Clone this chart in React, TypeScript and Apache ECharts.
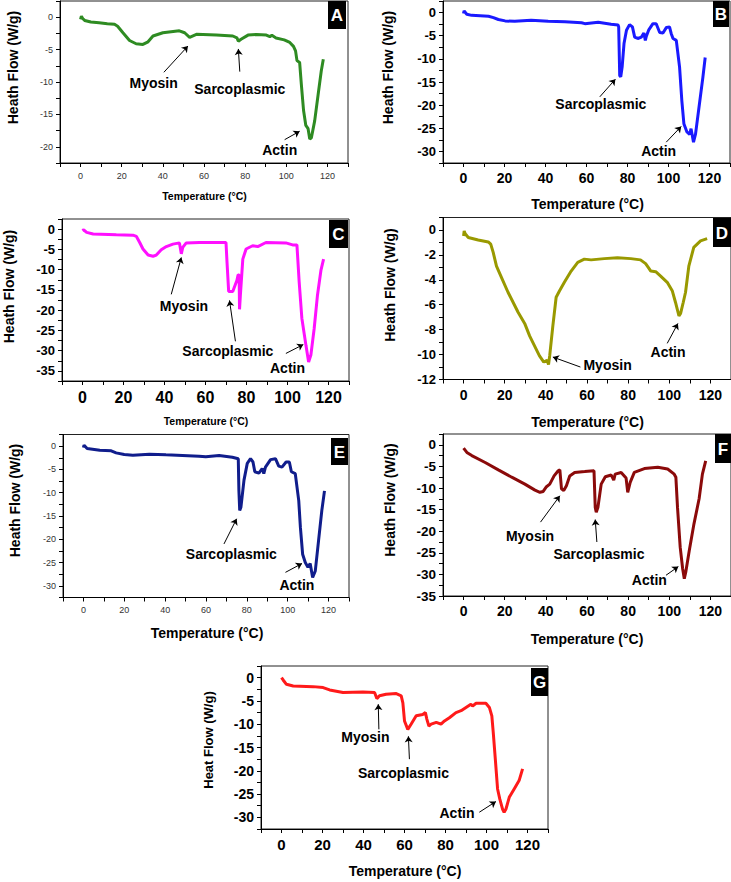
import React, { useEffect, useRef } from 'react';
import * as echarts from 'echarts';

// ---- Data (Temperature °C, Heat flow W/g) ----
const curveA: [number, number][] = [[0,-0.35],[0.4,0.15],[1,-0.2],[2,-0.5],[5,-0.75],[9,-0.87],[13,-1.0],[16.5,-1.1],[18,-1.4],[20.6,-2.4],[23.8,-3.6],[27,-4.1],[30.3,-4.2],[32.8,-3.8],[35.2,-2.9],[40,-2.4],[44,-2.25],[48,-2.1],[50.6,-2.4],[53,-3.1],[56.3,-2.65],[66,-2.76],[74,-2.9],[76,-3.2],[76.7,-3.7],[78,-3.4],[81.4,-2.76],[85.5,-2.66],[90.3,-2.76],[92,-3.0],[93,-2.8],[95,-3.2],[99,-3.5],[101.7,-3.9],[103.5,-4.5],[104.5,-5.2],[105.2,-6.7],[106.5,-7],[107.3,-10.3],[108.4,-14.4],[109.5,-16.7],[110.6,-17.2],[111.4,-18.8],[112.2,-18.6],[113.8,-16],[115.5,-11.9],[117,-8.3],[118,-6.5]];
const curveB: [number, number][] = [[0,-0.2],[0.3,0.35],[1.6,-0.36],[4,-0.6],[12.2,-0.8],[14.6,-1.1],[17,-1.5],[20.3,-1.8],[25,-1.9],[33,-1.65],[41.3,-1.9],[49.5,-2.0],[57.6,-2.2],[59.2,-2.4],[65.7,-2.1],[72,-2.5],[75.4,-2.7],[75.7,-3.1],[76.2,-13.6],[76.7,-13.9],[77.4,-11.7],[78.3,-6.7],[79.5,-3.8],[81,-2.6],[82.4,-3.1],[83.5,-5.3],[85,-5.6],[86.8,-5.3],[88,-4.4],[88.7,-6.0],[89.2,-5.1],[90.3,-3.8],[92.4,-2.4],[94,-2.4],[95.7,-4.3],[97.3,-4.4],[99,-3.2],[100.5,-3.1],[101.3,-4.5],[102.2,-5.6],[103.8,-6.0],[105.4,-11.8],[106.5,-19],[107.5,-24],[109,-25.8],[110.3,-26.3],[111,-25.1],[112.2,-28],[113.2,-26.2],[115.1,-19.7],[116.8,-13.9],[117.9,-9.7]];
const curveC: [number, number][] = [[0,-0.4],[0.6,-0.16],[2,-0.8],[5.2,-1.2],[16.5,-1.4],[24.6,-1.5],[26.3,-1.8],[27.9,-3.3],[29.5,-4.9],[32,-6.4],[34.4,-6.7],[36,-6.4],[38.4,-5.1],[40.9,-4.3],[44.1,-3.7],[47.3,-3.4],[48.2,-6.1],[48.9,-4.5],[50.6,-3.4],[57,-3.3],[70,-3.3],[70.5,-8.2],[71.3,-15.4],[73.3,-15.4],[75.3,-12.7],[75.9,-11.3],[76.4,-11.3],[76.6,-19.8],[77.0,-16.4],[78.2,-7.4],[79.8,-4.9],[83,-4.1],[85.5,-4.3],[89.5,-3.3],[99.2,-3.4],[102.5,-3.9],[104.6,-3.9],[105.7,-13.1],[107,-22],[109,-28.7],[110.3,-32.8],[111.4,-31.1],[113,-24.6],[114.6,-16.4],[116.3,-10.2],[117.6,-7.4]];
const curveD: [number, number][] = [[0,-0.48],[0.3,-0.08],[0.8,-0.3],[2.3,-0.6],[7.1,-0.8],[12,-0.96],[13.2,-1.14],[14.4,-1.8],[16,-2.9],[18.4,-3.8],[21.6,-5.0],[26.5,-6.6],[29.7,-7.5],[32.1,-8.5],[34.5,-9.3],[36.9,-10.1],[39,-10.6],[40.6,-10.45],[41.3,-10.8],[41.9,-10.05],[43.4,-7.7],[45,-5.4],[46.6,-4.9],[49,-4.2],[52.3,-3.3],[55.5,-2.6],[58.7,-2.34],[62,-2.4],[68.4,-2.3],[74.8,-2.23],[81.3,-2.3],[86,-2.4],[88.5,-2.7],[90.2,-3.1],[91,-3.3],[93.4,-3.35],[95.8,-3.7],[99,-4.2],[101.5,-4.9],[103,-5.8],[104.7,-6.9],[105.5,-6.7],[106.8,-5.8],[107.9,-5.0],[109.5,-2.9],[111.9,-1.4],[115.2,-0.88],[118.4,-0.7]];
const curveE: [number, number][] = [[0,-0.3],[0.3,0.2],[1.8,-0.5],[8,-0.86],[13.6,-1.0],[16,-1.44],[20,-1.8],[24.2,-1.94],[32.3,-1.73],[40.4,-1.87],[48.5,-2.0],[56.6,-2.15],[59.9,-2.3],[66.4,-2.0],[72.9,-2.4],[75.8,-2.7],[76.1,-9.5],[76.5,-13.8],[77.1,-13.1],[78.6,-7.3],[80.2,-3.7],[81.8,-2.7],[83,-3.4],[83.9,-5.5],[85.9,-5.8],[87.5,-4.8],[88.3,-5.9],[89.1,-4.5],[91.6,-2.9],[94,-2.7],[95.6,-4.3],[97.2,-4.5],[99.2,-3.4],[100.8,-3.4],[101.8,-5.5],[103.7,-5.9],[105.4,-11.7],[106.2,-17.4],[107.3,-23.2],[108.6,-25],[109.9,-26],[111,-25.2],[112.2,-28.2],[113.5,-26.8],[115.1,-20.3],[116.7,-13.8],[118,-9.6]];
const curveF: [number, number][] = [[0,-0.77],[1.6,-1.77],[4,-2.5],[10.5,-4.1],[16.9,-5.8],[23.4,-7.5],[29.8,-9.1],[34.7,-10.5],[37.1,-11],[38.7,-10.8],[40.3,-9.7],[41.9,-9.1],[44,-7.2],[46,-6],[46.8,-5.8],[47.6,-10.2],[48.7,-10.6],[50,-9.5],[51.6,-7.2],[54,-6.4],[58.9,-6.2],[63.4,-6],[64,-14.5],[64.5,-15.6],[65.3,-14.5],[66.9,-9.1],[68.9,-7.4],[71.8,-7],[73,-8.2],[73.7,-6.8],[76.6,-6.4],[79,-7.7],[79.8,-11],[81,-8.7],[83,-6.4],[87.9,-5.5],[94.4,-5.2],[99.2,-5.6],[102.4,-6.8],[103.2,-7.5],[104,-14.5],[105.3,-23.7],[106.5,-28.7],[107.3,-31],[108,-29.5],[109.7,-24.5],[112,-18.3],[114.5,-12.5],[116.1,-6.8],[117.7,-3.7]];
const curveG: [number, number][] = [[0,0],[0.8,-0.5],[2.4,-1.43],[5.7,-1.8],[15.4,-1.93],[20.3,-2.14],[23.5,-2.64],[30,-3.2],[39.7,-3.07],[45.4,-3.2],[46.5,-4.5],[47.8,-3.9],[51,-3.57],[56,-3.43],[58.4,-3.9],[59.2,-5.4],[60,-9.3],[61.6,-11.1],[63.2,-10],[65.7,-8.2],[68.9,-7.9],[70.2,-7.5],[70.9,-8.9],[71.9,-10.4],[73,-10],[75.5,-9.6],[77.8,-10],[79.5,-9.3],[81.9,-8.6],[85.1,-7.5],[87.6,-7.1],[90,-6.4],[92.4,-5.7],[93.2,-6.1],[94.9,-5.5],[99.7,-5.5],[101.4,-6.4],[102.6,-8.2],[103.3,-11.8],[104.3,-17.5],[105.4,-23.9],[106.5,-26.1],[107.8,-28.2],[108.6,-28.9],[109.5,-28.2],[111.1,-25.7],[113.5,-23.9],[115.9,-22.1],[117.6,-19.6]];

// Annotation labels: [x, y, text] in data space
const labelsA: [number, number, string][] = [[35.5,-10.1,'Myosin'],[77.4,-11.1,'Sarcoplasmic'],[96.8,-20.55,'Actin']];
const labelsB: [number, number, string][] = [[67,-19.8,'Sarcoplasmic'],[95.2,-29.9,'Actin']];
const labelsC: [number, number, string][] = [[49.5,-19,'Myosin'],[70.9,-30.2,'Sarcoplasmic'],[100,-34.3,'Actin']];
const labelsD: [number, number, string][] = [[70,-10.8,'Myosin'],[99.4,-9.8,'Actin']];
const labelsE: [number, number, string][] = [[72.4,-23.2,'Sarcoplasmic'],[104.5,-29.8,'Actin']];
const labelsF: [number, number, string][] = [[32.3,-21.2,'Myosin'],[65.8,-25.2,'Sarcoplasmic'],[90.3,-31.2,'Actin']];
const labelsG: [number, number, string][] = [[40.9,-12.7,'Myosin'],[59.5,-20.4,'Sarcoplasmic'],[85.6,-29.1,'Actin']];

// Arrows: [x1, y1, x2 (head), y2 (head)]
const arrowsA: number[][] = [[40.5,-8.5,52.2,-4.45],[77.4,-8.4,76.7,-4.9],[99.2,-18.9,106.5,-17.6]];
const arrowsB: number[][] = [[66.5,-18.2,74.1,-14.4],[98.9,-28,106.2,-24.6]];
const arrowsC: number[][] = [[43.3,-16.1,48.2,-7],[74.6,-27.7,71.7,-17.6],[99.2,-30.7,107.7,-28.5]];
const arrowsD: number[][] = [[56.8,-11,43.4,-10.2],[99,-9.1,104.2,-7.5]];
const arrowsE: number[][] = [[68.8,-21,75,-15.6],[98.9,-27.1,107,-25.2]];
const arrowsF: number[][] = [[37.4,-17.9,46.8,-11.8],[64.8,-22.5,64,-17.3],[98.4,-30.2,104.4,-28.2]];
const arrowsG: number[][] = [[47.5,-11.1,47.2,-5.7],[62.4,-17.5,61.9,-12.6],[96.5,-28.9,104.6,-26.6]];

const FONT = '"Liberation Sans", Arial, Helvetica, sans-serif';

interface Panel {
  tag: string; data: [number, number][]; labels: [number, number, string][]; arrows: number[][];
  color: string; grid: { left: number; top: number; width: number; height: number };
  yMin: number; yMax: number; yStep: number; yLabelStep: number;
  yFont: number; yBold: boolean; xFont: number; xBold: boolean;
  box: [number, number, number, number];
  yTitle: string; yTitlePos: [number, number]; yTitleSize: number;
  xTitlePos: [number, number]; xTitleSize: number;
}

const panels: Panel[] = [
  { tag: 'A', data: curveA, labels: labelsA, arrows: arrowsA, color: '#2e8b22',
    grid: { left: 60, top: 1, width: 288, height: 162 }, yMin: -22.5, yMax: 2.5, yStep: 2.5, yLabelStep: 5,
    yFont: 9, yBold: false, xFont: 9, xBold: false, box: [328, 1, 18, 28],
    yTitle: 'Heath Flow (W/g)', yTitlePos: [13, 67.5], yTitleSize: 14, xTitlePos: [204.5, 196], xTitleSize: 10.5 },
  { tag: 'B', data: curveB, labels: labelsB, arrows: arrowsB, color: '#1a1aff',
    grid: { left: 443, top: 1, width: 287, height: 162 }, yMin: -32.5, yMax: 2.5, yStep: 2.5, yLabelStep: 5,
    yFont: 13, yBold: true, xFont: 14, xBold: true, box: [713, 1, 16, 26],
    yTitle: 'Heath Flow (W/g)', yTitlePos: [388, 67.5], yTitleSize: 14, xTitlePos: [587.5, 204], xTitleSize: 14 },
  { tag: 'C', data: curveC, labels: labelsC, arrows: arrowsC, color: '#ff10ff',
    grid: { left: 62, top: 219, width: 287, height: 162 }, yMin: -37.5, yMax: 2.5, yStep: 2.5, yLabelStep: 5,
    yFont: 13, yBold: true, xFont: 16, xBold: true, box: [329, 220, 19, 28],
    yTitle: 'Heath Flow (W/g)', yTitlePos: [8.5, 286.5], yTitleSize: 14, xTitlePos: [206, 421], xTitleSize: 10.5 },
  { tag: 'D', data: curveD, labels: labelsD, arrows: arrowsD, color: '#999900',
    grid: { left: 443, top: 217.5, width: 288, height: 162 }, yMin: -12, yMax: 1, yStep: 1, yLabelStep: 2,
    yFont: 13, yBold: true, xFont: 14, xBold: true, box: [713, 218, 18, 29],
    yTitle: 'Heath Flow (W/g)', yTitlePos: [390, 285], yTitleSize: 14, xTitlePos: [587.5, 422], xTitleSize: 14 },
  { tag: 'E', data: curveE, labels: labelsE, arrows: arrowsE, color: '#101d8c',
    grid: { left: 63, top: 434.5, width: 286, height: 163 }, yMin: -32.5, yMax: 2.5, yStep: 2.5, yLabelStep: 5,
    yFont: 9, yBold: false, xFont: 9, xBold: false, box: [331, 438, 17, 27],
    yTitle: 'Heath Flow (W/g)', yTitlePos: [15, 500.5], yTitleSize: 14, xTitlePos: [207, 632.7], xTitleSize: 14 },
  { tag: 'F', data: curveF, labels: labelsF, arrows: arrowsF, color: '#8b0a0a',
    grid: { left: 443, top: 434, width: 288, height: 162 }, yMin: -35, yMax: 2.5, yStep: 2.5, yLabelStep: 5,
    yFont: 13.5, yBold: true, xFont: 14, xBold: true, box: [715, 434, 16, 29],
    yTitle: 'Heath Flow (W/g)', yTitlePos: [390, 500], yTitleSize: 14, xTitlePos: [587, 639], xTitleSize: 14 },
  { tag: 'G', data: curveG, labels: labelsG, arrows: arrowsG, color: '#ff1a1a',
    grid: { left: 261, top: 666, width: 287, height: 163 }, yMin: -32.5, yMax: 2.5, yStep: 2.5, yLabelStep: 5,
    yFont: 14, yBold: true, xFont: 15, xBold: true, box: [531, 668, 17, 28],
    yTitle: 'Heat Flow (W/g)', yTitlePos: [208, 740], yTitleSize: 13, xTitlePos: [405, 870.7], xTitleSize: 14 },
];

const every = (step: number) => (v: number) => {
  const r = v / step;
  return Math.abs(r - Math.round(r)) < 1e-6 ? String(Math.round(v * 100) / 100) : '';
};

export default function App() {
  const ref = useRef<HTMLDivElement>(null);
  useEffect(() => {
    document.body.style.margin = '0';
    const chart = echarts.init(ref.current!, undefined, { renderer: 'svg' });
    const grids: any[] = [];
    const xAxes: any[] = [];
    const yAxes: any[] = [];
    const series: any[] = [];
    const graphics: any[] = [];
    panels.forEach((p, i) => {
      grids.push({ ...p.grid, show: true, borderColor: '#222', borderWidth: 1, containLabel: false, outerBoundsMode: 'none' });
      xAxes.push({
        type: 'value', gridIndex: i, min: -10, max: 130, interval: 10,
        axisLine: { show: true, onZero: false, lineStyle: { color: '#000', width: 1 } },
        axisTick: { show: true, inside: false, length: 4, lineStyle: { color: '#000' } },
        splitLine: { show: false },
        axisLabel: { formatter: every(20), fontSize: p.xFont, fontWeight: p.xBold ? 'bold' : 'normal', color: p.xBold ? '#000' : '#333', margin: 8, fontFamily: FONT, showMinLabel: true, showMaxLabel: true },
      });
      yAxes.push({
        type: 'value', gridIndex: i, min: p.yMin, max: p.yMax, interval: p.yStep,
        axisLine: { show: true, onZero: false, lineStyle: { color: '#000', width: 1 } },
        axisTick: { show: true, inside: false, length: 4, lineStyle: { color: '#000' } },
        splitLine: { show: false },
        axisLabel: { formatter: every(p.yLabelStep), fontSize: p.yFont, fontWeight: p.yBold ? 'bold' : 'normal', color: p.yBold ? '#000' : '#333', margin: 7, fontFamily: FONT, showMinLabel: true, showMaxLabel: true },
      });
      series.push({
        type: 'line', xAxisIndex: i, yAxisIndex: i, data: p.data, showSymbol: false, symbol: 'none',
        lineStyle: { color: p.color, width: 3 }, itemStyle: { color: p.color }, silent: true,
        emphasis: { disabled: true }, z: 3,
        markLine: {
          silent: true, symbol: ['none', 'arrow'], symbolSize: 6, animation: false,
          label: { show: false }, emphasis: { disabled: true },
          lineStyle: { color: '#000', width: 1, type: 'solid', opacity: 1 },
          data: p.arrows.map((a) => [{ coord: [a[0], a[1]] }, { coord: [a[2], a[3]] }]),
        },
        markPoint: {
          silent: true, symbol: 'circle', symbolSize: 0, animation: false,
          itemStyle: { color: 'rgba(0,0,0,0)' }, emphasis: { disabled: true },
          label: { show: true, position: 'inside', formatter: '{b}', color: '#000', opacity: 1, fontSize: 14, fontWeight: 'bold', fontFamily: FONT, textBorderWidth: 0 },
          data: p.labels.map((l) => ({ name: l[2], coord: [l[0], l[1]] })),
        },
      });
      graphics.push({ type: 'rect', shape: { x: p.box[0], y: p.box[1], width: p.box[2], height: p.box[3] }, style: { fill: '#000' }, z: 10 });
      graphics.push({ type: 'text', x: p.box[0] + p.box[2] / 2, y: p.box[1] + p.box[3] / 2 + 0.5, z: 11,
        style: { text: p.tag, fill: '#fff', font: `bold 17px ${FONT}`, textAlign: 'center', textVerticalAlign: 'middle' } });
      graphics.push({ type: 'text', x: p.yTitlePos[0], y: p.yTitlePos[1], rotation: Math.PI / 2, z: 10,
        style: { text: p.yTitle, fill: '#000', font: `bold ${p.yTitleSize}px ${FONT}`, textAlign: 'center', textVerticalAlign: 'middle' } });
      graphics.push({ type: 'text', x: p.xTitlePos[0], y: p.xTitlePos[1], z: 10,
        style: { text: 'Temperature (°C)', fill: '#000', font: `bold ${p.xTitleSize}px ${FONT}`, textAlign: 'center', textVerticalAlign: 'middle' } });
    });
    chart.setOption({
      animation: false,
      backgroundColor: '#fff',
      textStyle: { fontFamily: FONT },
      grid: grids, xAxis: xAxes, yAxis: yAxes, series, graphic: graphics,
    });
    return () => chart.dispose();
  }, []);
  return <div ref={ref} style={{ width: 731, height: 882 }} />;
}
